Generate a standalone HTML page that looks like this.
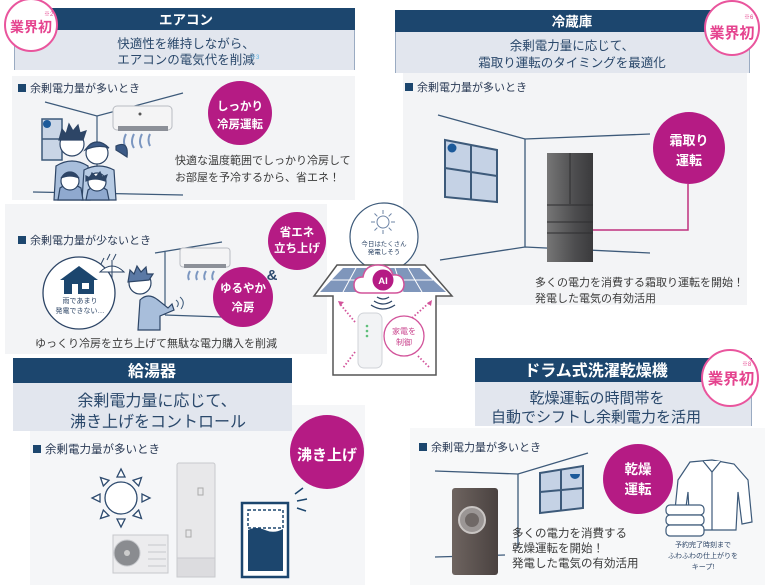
<!DOCTYPE html>
<html><head><meta charset="utf-8"><style>
html,body{margin:0;padding:0;background:#fff;}
svg{display:block;}
text{font-family:"Liberation Sans","Noto Sans CJK JP",sans-serif;}
</style></head><body>
<svg width="770" height="587" viewBox="0 0 770 587" xmlns="http://www.w3.org/2000/svg">
<rect width="770" height="587" fill="#fff"/>
<!-- panels -->
<rect x="12" y="76" width="343" height="124" fill="#f3f4f6"/>
<rect x="5" y="204" width="322" height="150" fill="#f3f4f6"/>
<rect x="403" y="73" width="344" height="232" fill="#f3f4f6"/>
<rect x="30" y="405" width="335" height="180" fill="#f5f6f8"/>
<rect x="410" y="428" width="355" height="157" fill="#f7f8f9"/>

<!-- ===== Aircon header ===== -->
<rect x="14" y="8" width="341" height="22" fill="#1c466e"/>
<text x="186" y="24.5" font-size="13.5" font-weight="bold" fill="#fff" text-anchor="middle">エアコン</text>
<rect x="14" y="30" width="341" height="40" fill="#e2e6ee"/>
<line x1="14.5" y1="30" x2="14.5" y2="70" stroke="#9aabc2"/>
<line x1="354.5" y1="30" x2="354.5" y2="70" stroke="#9aabc2"/>
<text x="186" y="48" font-size="12.5" fill="#2a486b" text-anchor="middle">快適性を維持しながら、</text>
<text x="186" y="64" font-size="12.5" fill="#2a486b" text-anchor="middle">エアコンの電気代を削減</text>
<text x="250" y="59" font-size="6" fill="#5ab0e0">※3</text>
<circle cx="31" cy="25" r="26" fill="#fff" stroke="#e9559d" stroke-width="2"/>
<text x="31" y="32" font-size="14" font-weight="bold" fill="#e5448f" text-anchor="middle">業界初</text>
<text x="44" y="16" font-size="6" fill="#e5448f">※2</text>

<!-- upper aircon body -->
<rect x="18" y="84" width="8" height="8" fill="#1c466e"/>
<text x="30" y="92" font-size="11" fill="#2a3a55">余剰電力量が多いとき</text>
<g stroke="#3d5a7a" stroke-width="1.2" fill="none">
<path d="M45 102 L97 116 L183 93"/>
<path d="M97 116 L97 190"/>
<path d="M33 192 L183 195"/>
</g>
<rect x="42" y="119" width="20" height="41" fill="#c9d5e6" stroke="#3d5a7a" stroke-width="1.5"/>
<line x1="42" y1="139" x2="62" y2="139" stroke="#3d5a7a" stroke-width="1.5"/>
<circle cx="47" cy="124" r="4" fill="#1c5a9a"/>
<!-- AC unit -->
<rect x="113" y="106" width="59" height="24" rx="4" fill="#f4f4f5" stroke="#b9bcc2"/>
<rect x="118" y="126" width="50" height="5" fill="#8c9098"/>
<circle cx="140" cy="114" r="1.5" fill="#555"/>
<g stroke="#7b96c0" stroke-width="2" fill="none">
<path d="M126 134 q-4 8 0 14"/><path d="M134 134 q-4 8 0 14"/><path d="M142 134 q-4 8 0 14"/><path d="M150 134 q-3 6 0 12"/>
</g>
<!-- family -->
<g stroke="#2d4566" stroke-width="1.2">
<path d="M54 200 L56 166 Q72 156 88 166 L90 200 Z" fill="#a8bedb"/>
<path d="M82 200 L84 170 Q99 162 114 170 L116 200 Z" fill="#b7cbe4"/>
<path d="M116 146 q13 -6 11 11 q-6 -4 -11 -7 z" fill="#3c5a86"/>
<circle cx="72" cy="144" r="12" fill="#fff"/>
<path d="M59 140 l3 -11 l4 5 l3 -10 l4 7 l5 -6 l2 8 l6 -2 l-3 9 z" fill="#2d4566"/>
<circle cx="97" cy="153" r="11" fill="#fff"/>
<path d="M85 150 q11 -15 24 -2 q-11 -4 -24 2 z" fill="#3c5a86"/>
<path d="M58 200 L60 188 Q70 181 81 188 L83 200 Z" fill="#8fa9cf"/>
<circle cx="70" cy="181" r="9" fill="#fff"/>
<path d="M61 178 q9 -11 18 0 q-9 -4 -18 0 z" fill="#2d4566"/>
<path d="M86 200 L88 190 Q97 183 107 190 L109 200 Z" fill="#8fa9cf"/>
<circle cx="97" cy="182" r="9" fill="#fff"/>
<path d="M86 176 l4 2 l2 -5 l4 4 l4 -5 l2 5 l5 -2 l-2 6 q-10 -4 -19 0 z" fill="#2d4566"/>
</g>
<circle cx="240" cy="113" r="32" fill="#b51b84"/>
<text x="240" y="110" font-size="11.5" font-weight="bold" fill="#fff" text-anchor="middle">しっかり</text>
<text x="240" y="128" font-size="11.5" font-weight="bold" fill="#fff" text-anchor="middle">冷房運転</text>
<text x="175" y="164" font-size="11" fill="#3a3a3a">快適な温度範囲でしっかり冷房して</text>
<text x="175" y="181" font-size="11" fill="#3a3a3a">お部屋を予冷するから、省エネ！</text>

<!-- lower aircon -->
<rect x="18" y="236" width="8" height="8" fill="#1c466e"/>
<text x="30" y="244" font-size="11" fill="#2a3a55">余剰電力量が少ないとき</text>
<circle cx="79" cy="293" r="36" fill="#fff" stroke="#2d4566" stroke-width="1.3"/>
<path d="M60 280 L79 266 L98 280 Z" fill="#1c466e"/>
<rect x="64" y="279" width="30" height="15" fill="#1c466e"/>
<rect x="72" y="284" width="6" height="10" fill="#fff"/>
<rect x="82" y="283" width="7" height="6" fill="#fff"/>
<path d="M100 272 q12 -12 24 0 z" fill="#fff" stroke="#2d4566"/>
<line x1="112" y1="260" x2="112" y2="278" stroke="#2d4566"/>
<g stroke="#2d4566" stroke-width="1"><line x1="104" y1="258" x2="101" y2="264"/><line x1="110" y1="254" x2="107" y2="260"/><line x1="116" y1="254" x2="113" y2="260"/></g>
<text x="80" y="303" font-size="7" fill="#2d4566" text-anchor="middle">雨であまり</text>
<text x="80" y="313" font-size="7" fill="#2d4566" text-anchor="middle">発電できない…</text>
<g stroke="#3d5a7a" stroke-width="1.2" fill="none">
<path d="M155 253 L222 242"/><path d="M165 252 L165 315"/><path d="M165 315 L222 317"/>
</g>
<!-- man -->
<g stroke="#2d4566" stroke-width="1.2">
<path d="M138 330 L140 300 Q148 292 158 300 L168 308 L172 304 L174 310 L160 316 L160 330 Z" fill="#a8bedb"/>
<circle cx="140" cy="283" r="11" fill="#fff"/>
<path d="M128 282 l2 -12 l4 4 l3 -8 l4 6 l5 -5 l1 7 l6 0 l-4 6 z" fill="#5b79a5"/>
</g>
<g stroke="#3d5a7a" fill="none"><path d="M176 300 q4 3 1 7"/><path d="M180 297 q6 5 1 12"/></g>
<rect x="180" y="248" width="50" height="19" rx="3" fill="#f4f4f5" stroke="#b9bcc2"/>
<rect x="184" y="264" width="42" height="4" fill="#8c9098"/>
<g stroke="#7b96c0" stroke-width="2" fill="none">
<path d="M190 271 q-3 5 -1 9"/><path d="M198 271 q-3 5 -1 9"/><path d="M206 271 q-3 5 -1 9"/><path d="M214 271 q-3 5 -1 9"/>
</g>
<circle cx="297" cy="241" r="29" fill="#b51b84"/>
<text x="297" y="236" font-size="11.5" font-weight="bold" fill="#fff" text-anchor="middle">省エネ</text>
<text x="297" y="252" font-size="11.5" font-weight="bold" fill="#fff" text-anchor="middle">立ち上げ</text>
<circle cx="243" cy="297" r="30" fill="#b51b84"/>
<text x="243" y="292" font-size="11.5" font-weight="bold" fill="#fff" text-anchor="middle">ゆるやか</text>
<text x="243" y="311" font-size="11.5" font-weight="bold" fill="#fff" text-anchor="middle">冷房</text>
<text x="272" y="280" font-size="15" font-weight="bold" fill="#2d4a6e" text-anchor="middle">&amp;</text>
<text x="35" y="347" font-size="11" fill="#3a3a3a">ゆっくり冷房を立ち上げて無駄な電力購入を削減</text>

<!-- ===== center house ===== -->
<circle cx="384" cy="237" r="34" fill="#fff" stroke="#3d5a7a" stroke-width="1.2"/>
<g transform="translate(383,222)" stroke="#6d84a6" stroke-width="1" fill="none">
<circle r="6"/>
<path d="M0 -8 L0 -12 M0 8 L0 12 M-8 0 L-12 0 M8 0 L12 0 M5.7 5.7 L8.5 8.5 M-5.7 -5.7 L-8.5 -8.5 M5.7 -5.7 L8.5 -8.5 M-5.7 5.7 L-8.5 8.5"/>
</g>
<text x="384" y="246" font-size="6.5" fill="#2d4566" text-anchor="middle">今日はたくさん</text>
<text x="384" y="254" font-size="6.5" fill="#2d4566" text-anchor="middle">発電しそう</text>
<path d="M333 375 L333 296 L314 296 L337 265 L425 265 L452 296 L436 296 L436 375 Z" fill="#fff" stroke="#555" stroke-width="1.5"/>
<path d="M320 292 L343 268 L420 268 L446 292 Z" fill="#7f96bb"/>
<g stroke="#fff" stroke-width="1">
<line x1="331" y1="280" x2="433" y2="280"/>
<line x1="356" y1="268" x2="343" y2="292"/><line x1="369" y1="268" x2="361" y2="292"/>
<line x1="395" y1="268" x2="403" y2="292"/><line x1="408" y1="268" x2="422" y2="292"/>
</g>
<path d="M362 293 q-8 0 -8 -8 q0 -8 9 -8 q2 -12 15 -12 q12 0 15 10 q10 -1 11 9 q0 9 -9 9 z" fill="#fff" stroke="#d2539a" stroke-width="1.5"/>
<circle cx="383" cy="280" r="10.5" fill="#b51b84"/>
<text x="383" y="284" font-size="9.5" font-weight="bold" fill="#fff" text-anchor="middle">AI</text>
<g stroke="#2d4566" stroke-width="1.3" fill="none">
<path d="M377 297 q6 4 12 0"/><path d="M374 301 q9 6 18 0"/><path d="M371 305 q12 8 24 0"/>
</g>
<rect x="358" y="313" width="24" height="55" rx="6" fill="#f2f3f5" stroke="#d0d3d8"/>
<circle cx="367" cy="326" r="1.3" fill="#5fbf7a"/><circle cx="367" cy="331" r="1.3" fill="#5fbf7a"/><circle cx="367" cy="336" r="1.3" fill="#5fbf7a"/>
<circle cx="404" cy="336" r="20" fill="#fff" stroke="#d2539a" stroke-width="1.3"/>
<text x="404" y="334" font-size="8" fill="#c9438d" text-anchor="middle">家電を</text>
<text x="404" y="345" font-size="8" fill="#c9438d" text-anchor="middle">制御</text>
<g stroke="#d2539a" stroke-width="1.8" stroke-dasharray="1.5 2" fill="none">
<line x1="355" y1="322" x2="340" y2="304"/>
<line x1="412" y1="318" x2="430" y2="302"/>
<line x1="355" y1="352" x2="343" y2="368"/>
<line x1="418" y1="356" x2="430" y2="368"/>
</g>
<path d="M338 301 l6 1 l-4 4 z" fill="#d2539a"/>
<path d="M432 300 l-1 6 l-4 -3 z" fill="#d2539a"/>

<!-- ===== Fridge ===== -->
<rect x="395" y="10" width="355" height="22" fill="#1c466e"/>
<text x="572" y="26.5" font-size="13.5" font-weight="bold" fill="#fff" text-anchor="middle">冷蔵庫</text>
<rect x="395" y="32" width="355" height="41" fill="#e2e6ee"/>
<line x1="395.5" y1="32" x2="395.5" y2="73" stroke="#9aabc2"/>
<line x1="749.5" y1="32" x2="749.5" y2="73" stroke="#9aabc2"/>
<text x="572" y="50" font-size="12.5" fill="#2a486b" text-anchor="middle">余剰電力量に応じて、</text>
<text x="572" y="67" font-size="12.5" fill="#2a486b" text-anchor="middle">霜取り運転のタイミングを最適化</text>
<circle cx="732" cy="28" r="27" fill="#fff" stroke="#e9559d" stroke-width="2"/>
<text x="732" y="38" font-size="15" font-weight="bold" fill="#e5448f" text-anchor="middle">業界初</text>
<text x="744" y="19" font-size="6" fill="#e5448f">※6</text>
<rect x="405" y="83" width="8" height="8" fill="#1c466e"/>
<text x="417" y="91" font-size="11" fill="#2a3a55">余剰電力量が多いとき</text>
<g stroke="#3d5a7a" stroke-width="1.3" fill="none">
<path d="M438 115 L525 139 L650 134"/>
<path d="M525 139 L525 247"/>
<path d="M440 260 L525 247 L650 253"/>
</g>
<path d="M445 140 L497 150 L497 202 L445 197 Z" fill="#c5d2e5" stroke="#3d5a7a" stroke-width="2"/>
<path d="M471 145 L471 200 M445 168 L497 176" stroke="#3d5a7a" stroke-width="2"/>
<circle cx="452" cy="148" r="4.5" fill="#1c5a9a"/>
<defs><linearGradient id="fg" x1="0" x2="1"><stop offset="0" stop-color="#767676"/><stop offset="0.6" stop-color="#4d4d4f"/><stop offset="1" stop-color="#3a3a3c"/></linearGradient>
<linearGradient id="wg" x1="0" x2="1"><stop offset="0" stop-color="#6e6460"/><stop offset="1" stop-color="#4a4240"/></linearGradient></defs>
<rect x="547" y="153" width="46" height="109" fill="url(#fg)"/>
<g stroke="#2e2e30" stroke-width="1"><line x1="570" y1="153" x2="570" y2="204"/><line x1="547" y1="205" x2="593" y2="205"/><line x1="547" y1="222" x2="593" y2="222"/><line x1="547" y1="233" x2="593" y2="233"/></g>
<circle cx="689" cy="148" r="36" fill="#b51b84"/>
<text x="689" y="145" font-size="13" font-weight="bold" fill="#fff" text-anchor="middle">霜取り</text>
<text x="689" y="165" font-size="13" font-weight="bold" fill="#fff" text-anchor="middle">運転</text>
<path d="M688 184 L688 230 L593 230" stroke="#c0307f" stroke-width="1.5" fill="none"/>
<text x="535" y="286" font-size="11" fill="#3a3a3a">多くの電力を消費する霜取り運転を開始！</text>
<text x="535" y="302" font-size="11" fill="#3a3a3a">発電した電気の有効活用</text>

<!-- ===== Water heater ===== -->
<rect x="13" y="358" width="279" height="25" fill="#1c466e"/>
<text x="152" y="376.5" font-size="16" font-weight="bold" fill="#fff" text-anchor="middle">給湯器</text>
<rect x="13" y="383" width="279" height="48" fill="#e2e6ee"/>
<text x="157" y="406" font-size="16" fill="#2a486b" text-anchor="middle">余剰電力量に応じて、</text>
<text x="158" y="427" font-size="16" fill="#2a486b" text-anchor="middle">沸き上げをコントロール</text>
<rect x="33" y="445" width="8" height="8" fill="#1c466e"/>
<text x="45" y="453" font-size="11.5" fill="#2a3a55">余剰電力量が多いとき</text>
<g transform="translate(121,498)" fill="#fff" stroke="#2d4a6e" stroke-width="1.3">
<circle r="16"/>
<polygon points="-4,-21 4,-21 0,-29"/>
<polygon points="-4,-21 4,-21 0,-29" transform="rotate(45)"/>
<polygon points="-4,-21 4,-21 0,-29" transform="rotate(90)"/>
<polygon points="-4,-21 4,-21 0,-29" transform="rotate(135)"/>
<polygon points="-4,-21 4,-21 0,-29" transform="rotate(180)"/>
<polygon points="-4,-21 4,-21 0,-29" transform="rotate(225)"/>
<polygon points="-4,-21 4,-21 0,-29" transform="rotate(270)"/>
<polygon points="-4,-21 4,-21 0,-29" transform="rotate(315)"/>
</g>
<rect x="113" y="535" width="55" height="38" fill="#ececee" stroke="#c6c8cc"/>
<circle cx="127" cy="553" r="13" fill="#8a8c90" stroke="#c6c8cc"/>
<circle cx="127" cy="553" r="3" fill="#ccc"/>
<g stroke="#c6c8cc"><line x1="148" y1="545" x2="166" y2="545"/><line x1="148" y1="552" x2="166" y2="552"/><line x1="148" y1="559" x2="166" y2="559"/><line x1="148" y1="566" x2="166" y2="566"/></g>
<rect x="177" y="463" width="38" height="114" rx="2" fill="#e8e8ea" stroke="#c8c9cd"/>
<rect x="177" y="558" width="38" height="19" fill="#dcdcdf" stroke="#c8c9cd"/>
<rect x="198" y="488" width="5" height="7" fill="none" stroke="#aaa"/>
<rect x="186" y="530" width="5" height="7" fill="none" stroke="#aaa"/>
<circle cx="327" cy="452" r="37" fill="#b51b84"/>
<text x="327" y="460" font-size="15" font-weight="bold" fill="#fff" text-anchor="middle">沸き上げ</text>
<rect x="242" y="503" width="46" height="74" fill="#fff" stroke="#1c466e" stroke-width="2.5"/>
<rect x="248" y="510" width="35" height="18" fill="none" stroke="#1c466e" stroke-width="1.5" stroke-dasharray="3 2"/>
<path d="M248 530 q8 -4 17 0 q9 4 18 -1 L283 571 L248 571 Z" fill="#1c466e"/>
<g stroke="#1c466e" stroke-width="1.5"><line x1="295" y1="494" x2="303" y2="488"/><line x1="297" y1="501" x2="307" y2="499"/><line x1="297" y1="508" x2="306" y2="511"/></g>

<!-- ===== Washer ===== -->
<rect x="475" y="358" width="277" height="24" fill="#1c466e"/>
<text x="596" y="376" font-size="16" font-weight="bold" fill="#fff" text-anchor="middle">ドラム式洗濯乾燥機</text>
<rect x="475" y="382" width="277" height="44" fill="#e2e6ee"/>
<line x1="751.5" y1="382" x2="751.5" y2="426" stroke="#9aabc2"/>
<text x="597" y="403" font-size="15" fill="#2a486b" text-anchor="middle">乾燥運転の時間帯を</text>
<text x="596" y="422" font-size="15" fill="#2a486b" text-anchor="middle">自動でシフトし余剰電力を活用</text>
<circle cx="730" cy="378" r="28" fill="#fff" stroke="#e9559d" stroke-width="2"/>
<text x="731" y="384" font-size="15.5" font-weight="bold" fill="#e5448f" text-anchor="middle">業界初</text>
<text x="742" y="366" font-size="6" fill="#e5448f">※8</text>
<rect x="419" y="443" width="8" height="8" fill="#1c466e"/>
<text x="431" y="451" font-size="11" fill="#2a3a55">余剰電力量が多いとき</text>
<g stroke="#3d5a7a" stroke-width="1.3" fill="none">
<path d="M435 471 L518 474 L588 453"/>
<path d="M518 474 L518 548"/>
<path d="M435 557 L505 555"/>
</g>
<path d="M540 473 L583 466 L583 508 L540 513 Z" fill="#c5d2e5" stroke="#3d5a7a" stroke-width="2"/>
<path d="M561 470 L561 511 M540 492 L583 488" stroke="#3d5a7a" stroke-width="2"/>
<path d="M570 474 a5 5 0 0 0 10 0 z" fill="#1c5a9a"/>
<rect x="452" y="488" width="46" height="87" rx="3" fill="url(#wg)"/>
<circle cx="472" cy="520" r="13" fill="#9b9695" stroke="#c9c5c3" stroke-width="2"/>
<circle cx="472" cy="520" r="7" fill="#6f6866"/>
<circle cx="638" cy="479" r="35" fill="#b51b84"/>
<text x="638" y="474" font-size="13.5" font-weight="bold" fill="#fff" text-anchor="middle">乾燥</text>
<text x="638" y="494" font-size="13.5" font-weight="bold" fill="#fff" text-anchor="middle">運転</text>
<text x="512" y="537" font-size="11.5" fill="#3a3a3a">多くの電力を消費する</text>
<text x="512" y="552" font-size="11.5" fill="#3a3a3a">乾燥運転を開始！</text>
<text x="512" y="567" font-size="11.5" fill="#3a3a3a">発電した電気の有効活用</text>
<!-- shirt & towels -->
<g stroke="#3d5a7a" stroke-width="1.2" fill="#fff">
<path d="M690 462 L712 460 L734 464 L748 480 L752 522 L742 524 L738 492 L736 530 L690 530 L688 492 L684 522 L674 520 L678 480 Z"/>
<path d="M703 461 L712 472 L721 461"/>
<line x1="712" y1="472" x2="712" y2="530"/>
<rect x="666" y="505" width="38" height="10" rx="4"/>
<rect x="666" y="515" width="38" height="10" rx="4"/>
<rect x="666" y="525" width="38" height="11" rx="4"/>
</g>
<text x="703" y="547" font-size="7" fill="#2d4566" text-anchor="middle">予約完了時刻まで</text>
<text x="703" y="558" font-size="7" fill="#2d4566" text-anchor="middle">ふわふわの仕上がりを</text>
<text x="703" y="569" font-size="7" fill="#2d4566" text-anchor="middle">キープ!</text>
</svg>
</body></html>
